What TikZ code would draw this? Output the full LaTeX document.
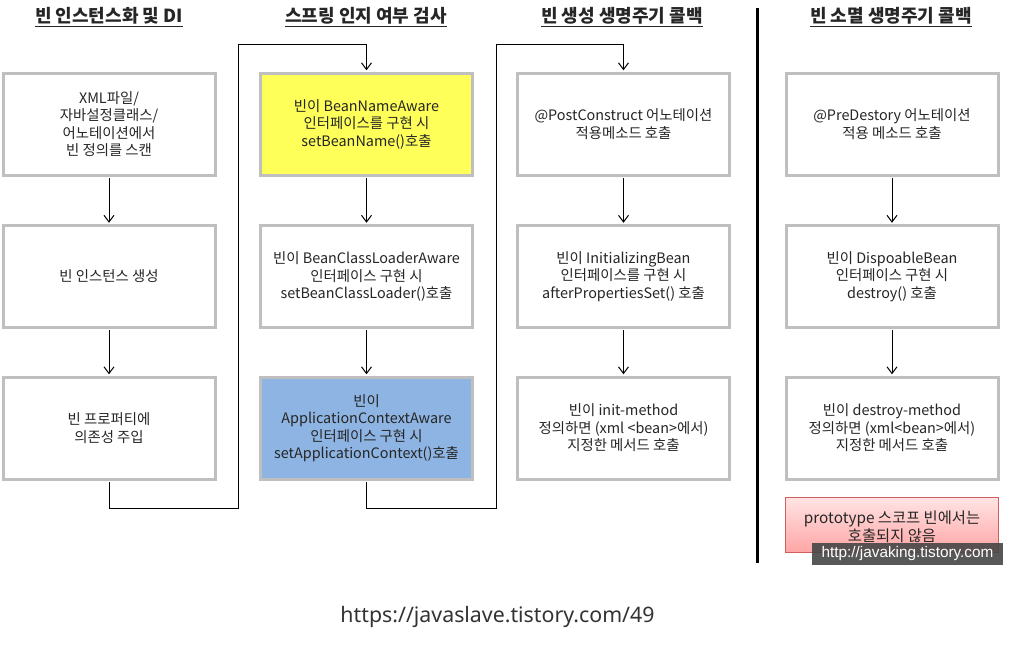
\documentclass[tikz,border=0pt]{standalone}
\usepackage{fontspec}
\setmainfont{Noto Sans CJK KR}
\newfontfamily\urlfont{Noto Sans}
\newfontfamily\markfont{Liberation Sans}
\usetikzlibrary{arrows.meta}

\definecolor{boxgray}{RGB}{191,191,191}
\definecolor{awareyellow}{RGB}{255,255,90}
\definecolor{awareblue}{RGB}{141,180,226}
\definecolor{notetop}{RGB}{255,228,228}
\definecolor{notebottom}{RGB}{255,165,165}
\definecolor{noteline}{RGB}{205,95,95}
\definecolor{markgray}{RGB}{70,70,70}
\definecolor{urlgray}{RGB}{51,51,51}

\tikzset{every picture/.style={line width=0.75pt}}
\tikzset{
  stepbox/.style={draw=boxgray, line width=2.25pt, fill=white, minimum width=159pt, minimum height=76.5pt,
    align=center, inner sep=0.75pt, text=black!85, font=\fontsize{10.8}{13.1}\selectfont},
  flow/.style={-{Straight Barb[length=5pt,width=7.5pt]}, line width=0.75pt, shorten <=1.1pt, shorten >=0.9pt},
  colhead/.style={inner sep=0.75pt, font=\fontsize{13.5}{15}\selectfont\bfseries, text=black!85},
}

\begin{document}
\begin{tikzpicture}[x=0.75pt,y=0.75pt,yscale=-1,xscale=1]
\useasboundingbox (0,0) rectangle (1010,647);

% Column headers
\node [colhead] (headinst) at (109,17) {\underline{빈 인스턴스화 및 DI}};
\node [colhead] (headaware) at (366,17) {\underline{스프링 인지 여부 검사}};
\node [colhead] (headinit) at (622,17) {\underline{빈 생성 생명주기 콜백}};
\node [colhead] (headdestroy) at (891,17) {\underline{빈 소멸 생명주기 콜백}};

%Shape: Rectangle -- instantiation and DI
\node [stepbox] (inst1) at (109,124) {XML파일/\\자바설정클래스/\\어노테이션에서\\빈 정의를 스캔};
\node [stepbox] (inst2) at (109,276.5) {빈 인스턴스 생성};
\node [stepbox] (inst3) at (109,428) {빈 프로퍼티에\\의존성 주입};

%Shape: Rectangle -- aware interfaces
\node [stepbox, fill=awareyellow] (aware1) at (366.5,124) {빈이 BeanNameAware\\인터페이스를 구현 시\\setBeanName()호출};
\node [stepbox] (aware2) at (366.5,276.5) {빈이 BeanClassLoaderAware\\인터페이스 구현 시\\setBeanClassLoader()호출};
\node [stepbox, fill=awareblue] (aware3) at (366.5,428) {빈이\\ApplicationContextAware\\인터페이스 구현 시\\setApplicationContext()호출};

%Shape: Rectangle -- init callbacks
\node [stepbox] (init1) at (623.5,124) {@PostConstruct 어노테이션\\적용메소드 호출};
\node [stepbox] (init2) at (623.5,276.5) {빈이 InitializingBean\\인터페이스를 구현 시\\afterPropertiesSet() 호출};
\node [stepbox] (init3) at (623.5,428) {빈이 init-method\\정의하면 (xml <bean>에서)\\지정한 메서드 호출};

%Shape: Rectangle -- destroy callbacks
\node [stepbox] (destroy1) at (892,124) {@PreDestory 어노테이션\\적용 메소드 호출};
\node [stepbox] (destroy2) at (892,276.5) {빈이 DispoableBean\\인터페이스 구현 시\\destroy() 호출};
\node [stepbox] (destroy3) at (892,428) {빈이 destroy-method\\정의하면 (xml<bean>에서)\\지정한 메서드 호출};

%Straight Lines
\draw [flow] (inst1.south) -- (inst2.north);
\draw [flow] (inst2.south) -- (inst3.north);
\draw [flow] (aware1.south) -- (aware2.north);
\draw [flow] (aware2.south) -- (aware3.north);
\draw [flow] (init1.south) -- (init2.north);
\draw [flow] (init2.south) -- (init3.north);
\draw [flow] (destroy1.south) -- (destroy2.north);
\draw [flow] (destroy2.south) -- (destroy3.north);

% Elbow connectors between columns
\coordinate (turninstlow) at (238,508);
\coordinate (turninsthigh) at (238,44);
\coordinate (turnawarelow) at (496,508);
\coordinate (turnawarehigh) at (496,44);
\draw [flow] (inst3.south) |- (turninstlow) -- (turninsthigh) -| (aware1.north);
\draw [flow] (aware3.south) |- (turnawarelow) -- (turnawarehigh) -| (init1.north);

%Straight Lines -- separator
\draw [line width=2.25pt] (757,8) -- (757,563);

%Shape: Rectangle -- prototype note
\node [draw=noteline, line width=0.75pt, top color=notetop, bottom color=notebottom, minimum width=159.75pt, minimum height=41.25pt] (note) at (891.5,525) {};
\node [align=center, inner sep=0.75pt, text=black!85, font=\fontsize{11.5}{12}\selectfont] (notetext) at (892,527) {prototype 스코프 빈에서는\\호출되지 않음};

% Text Node -- watermark
\node [fill=markgray, fill opacity=0.9, text opacity=1, text=white, inner sep=0pt, minimum width=143.25pt, minimum height=16.5pt, font=\markfont\fontsize{11.5}{13}\selectfont] (mark) at (907.5,554) {http://javaking.tistory.com};

% Text Node -- source
\node [inner sep=0.75pt, text=urlgray, font=\urlfont\fontsize{16}{19}\selectfont] (source) at (497.5,617) {https://javaslave.tistory.com/49};

\end{tikzpicture}
\end{document}
